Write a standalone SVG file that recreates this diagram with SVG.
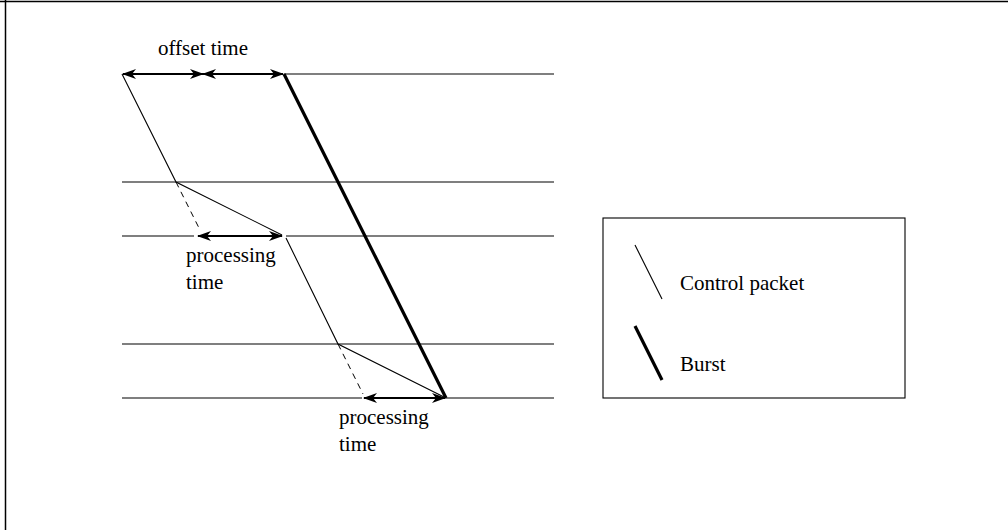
<svg xmlns="http://www.w3.org/2000/svg" width="1008" height="530" viewBox="0 0 1008 530">
<style>
.ln{stroke:#000;stroke-width:1.1;fill:none}
.fr{stroke:#000;stroke-width:1.5;fill:none}
.dash{stroke:#000;stroke-width:1;fill:none;stroke-dasharray:6,5}
.burst{stroke:#000;stroke-width:3.2;fill:none}
.arr{stroke:#000;stroke-width:2;fill:none;marker-start:url(#ah);marker-end:url(#ah)}
.t{font-family:"Liberation Serif","Times New Roman",serif;font-size:21px;fill:#000}
</style>
<defs>
<marker id="ah" viewBox="0 0 14 10" refX="13" refY="5" markerWidth="14" markerHeight="10" markerUnits="userSpaceOnUse" orient="auto-start-reverse">
<path d="M0,0 L14,5 L0,10 L4,5 Z" fill="#000"/>
</marker>
</defs>
<rect width="1008" height="530" fill="#fff"/>
<g id="frame">
<line class="fr" x1="0" y1="1.5" x2="1008" y2="1.5"/>
<line class="fr" x1="5.5" y1="0" x2="5.5" y2="530"/>
</g>
<g id="timelines">
<line class="ln" x1="284" y1="74" x2="554" y2="74"/>
<line class="ln" x1="122" y1="182" x2="554" y2="182"/>
<line class="ln" x1="122" y1="236" x2="194" y2="236"/>
<line class="ln" x1="286" y1="236" x2="554" y2="236"/>
<line class="ln" x1="122" y1="344" x2="554" y2="344"/>
<line class="ln" x1="122" y1="398" x2="362" y2="398"/>
<line class="ln" x1="446" y1="398" x2="554" y2="398"/>
</g>
<g id="connectors">
<polyline class="ln" points="122,74 176,182 282,235"/>
<polyline class="ln" points="286,238 338,344 446,398"/>
<line class="dash" x1="176" y1="182" x2="200" y2="230"/>
<line class="dash" x1="338" y1="344" x2="363" y2="394"/>
<line class="burst" x1="284" y1="74" x2="446" y2="398"/>
<line class="arr" x1="123" y1="74" x2="203" y2="74"/>
<line class="arr" x1="203" y1="74" x2="283" y2="74"/>
<line class="arr" x1="198" y1="236" x2="282" y2="236"/>
<line class="arr" x1="364" y1="398" x2="445" y2="398"/>
</g>
<g id="labels">
<text class="t" x="158" y="55">offset time</text>
<text class="t" x="186" y="262">processing</text>
<text class="t" x="186" y="289">time</text>
<text class="t" x="339" y="424">processing</text>
<text class="t" x="339" y="451">time</text>
</g>
<g id="legend">
<rect class="ln" x="603" y="218" width="302" height="180"/>
<line class="ln" x1="635" y1="245" x2="662" y2="299"/>
<text class="t" x="680" y="290">Control packet</text>
<line class="burst" x1="635" y1="326" x2="662" y2="380"/>
<text class="t" x="680" y="371">Burst</text>
</g>
</svg>
